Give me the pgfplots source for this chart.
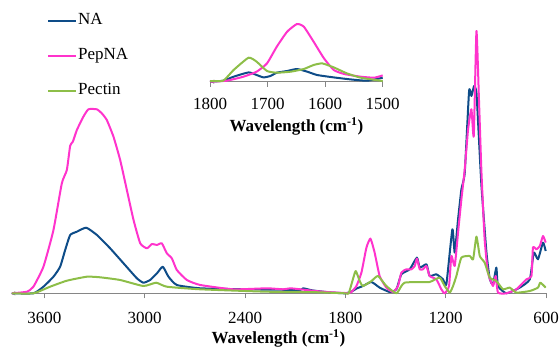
\documentclass[border=0pt]{standalone}
\usepackage{fontspec}
\setmainfont{Liberation Serif}
\usepackage{pgfplots}
\pgfplotsset{compat=1.18}
\definecolor{cNA}{RGB}{14,76,136}
\definecolor{cPep}{RGB}{255,51,204}
\definecolor{cPec}{RGB}{141,190,72}
\definecolor{axgray}{RGB}{134,134,134}
\newcommand{\fs}{\fontsize{17}{20}\selectfont}
\begin{document}
\begin{tikzpicture}
\pgfplotsset{
  common/.style={
    scale only axis,
    x dir=reverse,
    axis x line=bottom,
    axis y line=none,
    axis line style={axgray, line width=0.9pt},
    xtick style={axgray, line width=0.9pt},
    tick align=outside,
    major tick length=5pt,
    ticklabel style={font=\fs, text=black},
    /pgf/number format/assume math mode=true,
    /pgf/number format/1000 sep={},
    xlabel style={font=\fs\bfseries},
  },
  sNA/.style={color=cNA, line width=2pt, no markers, line join=round, smooth, tension=0.3},
  sPep/.style={color=cPep, line width=2pt, no markers, line join=round, smooth, tension=0.3},
  sPec/.style={color=cPec, line width=2pt, no markers, line join=round, smooth, tension=0.3},
}
\begin{axis}[common,
  at={(11pt,57.7pt)}, anchor=south west,
  width=535pt, height=283.3pt,
  xmin=600, xmax=3800, ymin=0, ymax=283.3,
  xtick={600,1200,1800,2400,3000,3600},
  xticklabel style={yshift=-10pt},
  xlabel={Wavelength (cm\textsuperscript{-1})},
  xlabel style={yshift=1pt},
  clip=false,
  legend style={at={(axis description cs:0.0673,0.995)}, anchor=north west,
    draw=none, fill=none, inner sep=0pt, row sep=17pt,
    font=\fs, nodes={inner sep=1pt, text height=12pt, text depth=4pt}},
  legend cell align=left,
  legend image code/.code={\draw[#1] (0pt,0pt) -- (28pt,0pt);},
]
\addplot[sNA] coordinates {
(3795,0) (3666,0) (3606,6.6) (3546,16.6) (3506,26.6) (3476,43.3) (3446,58.3)
(3406,61.6) (3350,65.6) (3286,58.3) (3207,45) (3127,30) (3047,15) (3008,10.6)
(2968,13.3) (2927,20) (2892,26.6) (2858,16.6) (2808,8.3) (2668,5) (2400,4)
(2150,3.5) (2070,3.3) (2052,5) (2000,3) (1900,1) (1800,0)
(1760,2) (1734,4.7) (1695,7.3) (1644,11.3) (1595,5.7) (1535,1.3) (1495,4)
(1465,19) (1415,24) (1372,35.7) (1355,25.7) (1315,29) (1296,17.3) (1256,19)
(1216,14) (1196,9) (1160,64) (1146,40.7) (1126,74) (1106,104) (1086,120.7)
(1060,202.3) (1046,197.3) (1030,207.3) (1016,200.7) (1002,157.3) (986,107.3)
(956,40.7) (936,14) (917,9) (897,25.7) (887,7.3) (837,0) (757,5.7) (697,14)
(673,40.7) (648,34) (618,50.7) (602,42.3)
};
\addlegendentry{NA}
\addplot[sPep] coordinates {
(3795,0) (3705,1.6) (3666,6.6) (3606,26.6) (3546,63.3) (3496,110) (3466,123.3)
(3446,147.6) (3430,151.6) (3406,163.3) (3367,176.6) (3337,184) (3287,184)
(3257,180) (3227,173.3) (3187,156.6) (3147,133.3) (3107,103.3) (3067,73.3)
(3027,50) (2987,45) (2957,49.3) (2927,48.3) (2898,50) (2868,40) (2838,35)
(2808,23.3) (2748,13.3) (2668,8.3) (2471,4) (2269,5) (2172,4) (2130,5)
(2070,4) (1992,2.5) (1900,1.2) (1800,0.3)
(1786,0) (1764,1.3) (1734,7.3) (1704,20.7) (1674,45.7) (1650,54.7) (1625,40.7)
(1595,17.3) (1555,5.7) (1515,1.3) (1485,7.3) (1465,20.7) (1435,24) (1405,24)
(1385,27.3) (1372,34.7) (1355,24) (1336,24) (1315,27.3) (1296,17.3) (1256,14)
(1226,4) (1206,0) (1180,7.3) (1166,37.3) (1146,27.3) (1126,60.7) (1106,94)
(1086,124) (1066,164) (1046,184) (1032,157.3) (1016,262.3) (1001,194)
(986,120.7) (967,54) (947,20.7) (917,7.3) (901,17.3) (887,0.7) (837,0)
(777,4) (717,14) (687,17.3) (678,45.7) (657,44) (637,47.3) (618,57.3) (602,50.7)
};
\addlegendentry{PepNA}
\addplot[sPec] coordinates {
(3795,0) (3666,0) (3566,6.6) (3466,12.6) (3346,16.6) (3267,16) (3147,13.3)
(3008,7.3) (2932,10.6) (2868,6.6) (2668,4) (2269,1.6) (2000,1.2) (1800,0)
(1780,0) (1755,14) (1738,22.3) (1714,12.3) (1695,7.3) (1644,12.3) (1605,17.3)
(1555,7.3) (1495,0) (1465,7.3) (1445,10.7) (1375,11.3) (1296,11.3) (1236,15.7)
(1206,7.3) (1176,0.7) (1156,7.3) (1136,17.3) (1106,35.7) (1056,37.3)
(1036,34) (1016,56.7) (996,37.3) (967,30.7) (936,15.7) (897,12.3) (857,4)
(817,5.7) (777,0.7) (697,2.3) (648,5.7) (634,10.7) (602,5.7)
};
\addlegendentry{Pectin}
\end{axis}
\begin{axis}[common,
  at={(210pt,269.3pt)}, anchor=south west,
  width=172.7pt, height=60pt,
  xmin=1500, xmax=1800, ymin=0, ymax=60,
  xtick={1500,1600,1700,1800},
  xticklabel style={yshift=-8pt},
  xlabel={Wavelength (cm\textsuperscript{-1})},
  xlabel style={yshift=-1pt},
  clip=false,
]
\addplot[sNA] coordinates {
(1800,0) (1777,1) (1759,5) (1733,9.3) (1719,6.7) (1707,4.3) (1695,5.7)
(1684,9) (1666,10.7) (1649,12.7) (1631,10) (1614,6.7) (1585,4.3) (1556,2.3)
(1527,1) (1500,4)
};
\addplot[sPep] coordinates {
(1800,0) (1771,1) (1742,5) (1719,10) (1701,18.3) (1684,35) (1666,50)
(1649,57.7) (1637,55) (1620,40) (1602,23.3) (1585,11.7) (1567,7.7)
(1538,5) (1515,4) (1500,6.3)
};
\addplot[sPec] coordinates {
(1800,0.7) (1777,1) (1759,11.7) (1733,24) (1719,20) (1701,10.7) (1684,9)
(1660,10) (1637,12.7) (1620,16.7) (1605,18.3) (1585,14.3) (1562,8.3)
(1538,4) (1500,0.7)
};
\end{axis}
\pgfresetboundingbox
\path[use as bounding box] (0pt,0pt) rectangle (559pt,351pt);
\end{tikzpicture}
\end{document}
